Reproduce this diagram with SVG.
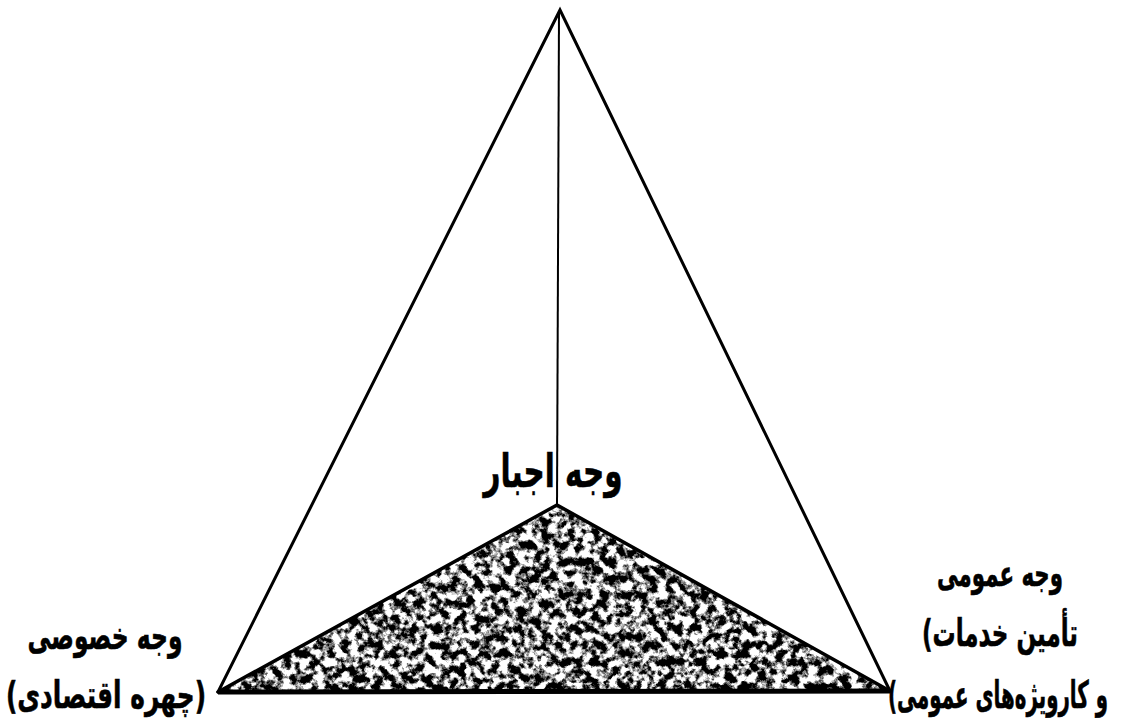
<svg xmlns="http://www.w3.org/2000/svg" width="1123" height="728" viewBox="0 0 1123 728">
<style>
.lbl{font-family:"DejaVu Sans","Noto Sans",sans-serif;font-weight:bold;fill:#000;stroke:#000;stroke-width:0.6;}
.edge{fill:none;stroke:#000;stroke-linejoin:miter;stroke-linecap:round;}
</style>
<defs>
<filter id="grain" x="0" y="0" width="1" height="1" filterUnits="objectBoundingBox" color-interpolation-filters="sRGB">
<feTurbulence type="fractalNoise" baseFrequency="0.12" numOctaves="5" seed="7" result="n"/>
<feColorMatrix in="n" type="matrix" values="1 0 0 0 0  1 0 0 0 0  1 0 0 0 0  0 0 0 0 1" result="g"/>
<feComponentTransfer in="g" result="t">
<feFuncR type="linear" slope="5" intercept="-2.0"/>
<feFuncG type="linear" slope="5" intercept="-2.0"/>
<feFuncB type="linear" slope="5" intercept="-2.0"/>
</feComponentTransfer>
<feComposite in="t" in2="SourceGraphic" operator="in"/>
</filter>
</defs>
<rect width="1123" height="728" fill="#fff"/>
<g id="inner-triangle">
<polygon points="557,505 218,692 890,691" fill="#777" filter="url(#grain)"/>
<polyline class="edge" points="218,692 557,505 890,691" stroke-width="3.5"/>
</g>
<g id="outer-triangle">
<polyline class="edge" points="218,692 560,10 890,691" stroke-width="3"/>
<line x1="218" y1="692" x2="890" y2="691" stroke="#000" stroke-width="5"/>
</g>
<g id="connectors">
<line x1="559" y1="12" x2="557" y2="505" stroke="#000" stroke-width="2"/>
</g>
<g id="node-top">
<text class="lbl" x="553" y="487" font-size="46" text-anchor="middle" direction="rtl" textLength="139" lengthAdjust="spacingAndGlyphs">وجه اجبار</text>
</g>
<g id="node-left">
<text class="lbl" x="105" y="649" font-size="38" text-anchor="middle" direction="rtl" textLength="155" lengthAdjust="spacingAndGlyphs">وجه خصوصی</text>
<text class="lbl" x="106" y="708" font-size="38" text-anchor="middle" direction="rtl" textLength="200" lengthAdjust="spacingAndGlyphs">(چهره اقتصادی)</text>
</g>
<g id="node-right">
<text class="lbl" x="1000" y="586" font-size="36" text-anchor="middle" direction="rtl" textLength="126" lengthAdjust="spacingAndGlyphs">وجه عمومی</text>
<text class="lbl" x="1000" y="646" font-size="38" text-anchor="middle" direction="ltr" textLength="156" lengthAdjust="spacingAndGlyphs">&#x200E;(تأمین خدمات</text>
<text class="lbl" x="998" y="708" font-size="38" text-anchor="middle" direction="rtl" textLength="220" lengthAdjust="spacingAndGlyphs">و کارویژه‌های عمومی)</text>
</g>
</svg>
